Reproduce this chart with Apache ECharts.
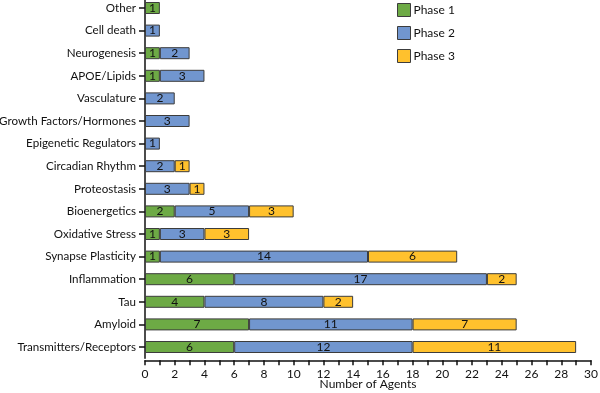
<!DOCTYPE html>
<html><head><meta charset="utf-8">
<script src="https://cdn.jsdelivr.net/npm/echarts@6/dist/echarts.min.js"></script>
<style>html,body{margin:0;padding:0;background:#fff}#c{width:600px;height:393px}</style>
</head><body><div id="c"></div>
<script>
const categories = ["Transmitters/Receptors","Amyloid","Tau","Inflammation","Synapse Plasticity","Oxidative Stress","Bioenergetics","Proteostasis","Circadian Rhythm","Epigenetic Regulators","Growth Factors/Hormones","Vasculature","APOE/Lipids","Neurogenesis","Cell death","Other"];
const phase1 = [6,7,4,6,1,1,2,null,null,null,null,null,1,1,null,1];
const phase2 = [12,11,8,17,14,3,5,3,2,1,3,2,3,2,1,null];
const phase3 = [11,7,2,2,6,3,3,1,1,null,null,null,null,null,null,null];
const xTicks = [0,2,4,6,8,10,12,14,16,18,20,22,24,26,28,30];

const FONT = 'Lato';
const chart = echarts.init(document.getElementById('c'));
function s(name, data, color){
  return {name, type:'bar', stack:'a', data, barWidth:12,
    itemStyle:{color, borderColor:'#3c3c3c', borderWidth:1},
    label:{show:true, position:'inside', color:'#111', fontFamily:FONT, fontSize:12, formatter:'{c}'}};
}
chart.setOption({
  animation:false,
  textStyle:{fontFamily:FONT},
  grid:{left:145, right:9, top:-3.3, bottom:34.7, containLabel:false, outerBoundsMode:'none'},
  legend:{orient:'vertical', left:397, top:3, padding:0, itemWidth:13, itemHeight:13, itemGap:9,
    icon:'rect', textStyle:{fontFamily:FONT, fontSize:12, color:'#111', padding:[0,0,0,-2]},
    data:['Phase 1','Phase 2','Phase 3'],
    itemStyle:{borderColor:'#3c3c3c', borderWidth:1}},
  xAxis:{type:'value', min:0, max:30, interval:2, offset:2,
    axisLine:{show:true, lineStyle:{color:'#111', width:1.5}},
    axisTick:{show:true, length:5, lineStyle:{color:'#111', width:1.5}},
    minorTick:{show:true, splitNumber:2, length:5, lineStyle:{color:'#111', width:1.5}},
    splitLine:{show:false},
    axisLabel:{color:'#111', fontSize:12, fontFamily:FONT, margin:8,
      formatter:v=>xTicks.includes(v)?String(v):''},
    name:'Number of Agents', nameLocation:'middle', nameGap:18, nameMoveOverlap:false,
    nameTextStyle:{color:'#111', fontSize:12, fontFamily:FONT}},
  yAxis:{type:'category', data:categories,
    axisLine:{show:true, lineStyle:{color:'#111', width:1.5}},
    axisTick:{show:true, alignWithLabel:true, length:6, lineStyle:{color:'#111', width:1.5}},
    axisLabel:{color:'#111', fontSize:11.6, fontFamily:FONT, margin:9}},
  series:[s('Phase 1', phase1, '#6DAA45'), s('Phase 2', phase2, '#7196CF'), s('Phase 3', phase3, '#FFC12D')]
});
</script></body></html>
